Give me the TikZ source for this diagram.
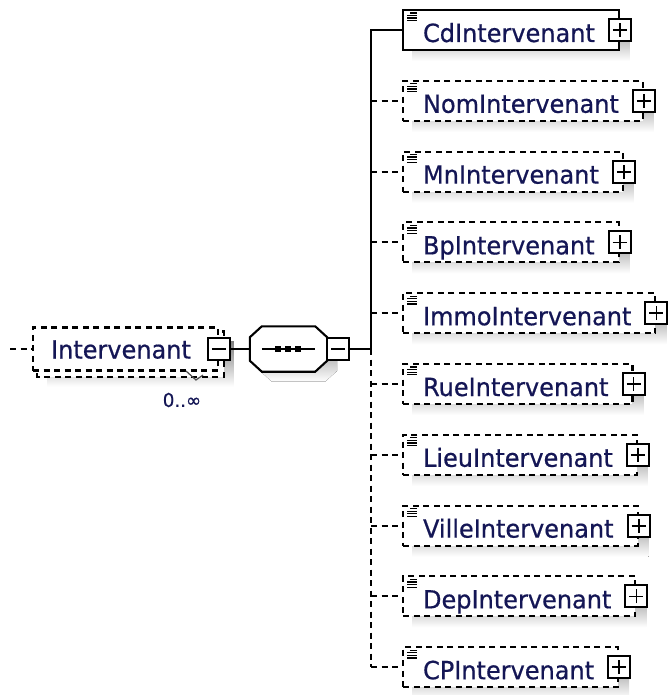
\documentclass[tikz,border=0pt]{standalone}
\usepackage{fontspec}
\newfontfamily\xsdfont[FakeStretch=0.96, FakeBold=0.6]{DejaVu Sans}
\usetikzlibrary{calc}
\definecolor{ink}{RGB}{20,22,85}
\definecolor{shade}{RGB}{190,190,190}
\pgfdeclarelayer{shadow}
\pgfdeclarelayer{back}
\pgfsetlayers{shadow,back,main}

\begin{document}
\begin{tikzpicture}[x=1pt,y=-1pt,
  edge/.style={line width=2.1pt, draw=black},
  opt/.style={dash pattern=on 6pt off 4.5pt},
  elembase/.style={draw=black, line width=2.1pt, fill=white, rectangle,
    inner xsep=0pt, inner ysep=0pt,
    font={\xsdfont\fontsize{25pt}{28pt}\selectfont}, text=ink, anchor=west},
  elem/.style={elembase, minimum height=40pt, text height=24pt, text depth=0pt,
    execute at begin node={\hspace*{20pt}},
    execute at end node={\hspace*{24pt}}},
  xbox/.style={draw=black, line width=2pt, fill=white, rectangle,
    minimum width=22pt, minimum height=22pt, inner sep=0pt},
  plus/.style={xbox, path picture={
    \draw[line width=1.8pt]
      ([xshift=-7pt]path picture bounding box.center) -- ([xshift=7pt]path picture bounding box.center)
      ([yshift=-7pt]path picture bounding box.center) -- ([yshift=7pt]path picture bounding box.center);}},
  minus/.style={xbox, path picture={
    \draw[line width=1.8pt]
      ([xshift=-7pt]path picture bounding box.center) -- ([xshift=7pt]path picture bounding box.center);}},
  occur/.style={font={\xsdfont\fontsize{19pt}{22pt}\selectfont}, text=ink, inner sep=0pt}
]
\useasboundingbox (0,0) rectangle (669,695);

% ---- parent element (0..unbounded) ----
\node[elembase, opt, minimum height=43pt, text height=19pt, text depth=0pt,
      execute at begin node={\hspace*{18pt}},
      execute at end node={\hspace*{27pt}}] (iv) at (32,349) {Intervenant};
\node[minus] (ivx) at (iv.east) {};
\node[occur] (occ) at (182,400) {0..∞};
\draw[line width=1.2pt, black!70] (186,371) -- (196,380) -- (203,375);

\begin{pgfonlayer}{back}
  \draw[edge, opt, fill=white] ($(iv.north west)+(5,5)$) rectangle ($(iv.south east)+(5,5)$);
\end{pgfonlayer}
\begin{pgfonlayer}{shadow}
  \fill[shade] ($(iv.north west)+(15,15)$) rectangle ($(iv.south east)+(15,15)$);
\end{pgfonlayer}

\coordinate (parent) at (10,349);
\draw[edge, opt] (parent) -- (iv.west);

% ---- sequence compositor ----
\node[minimum width=77pt, minimum height=45pt, inner sep=0pt] (seq) at (288.5,349) {};
\draw[edge, fill=white]
  ($(seq.north west)+(12,0)$) -- ($(seq.north east)+(-12,0)$) --
  ($(seq.north east)+(0,11)$) -- ($(seq.south east)+(0,-11)$) --
  ($(seq.south east)+(-12,0)$) -- ($(seq.south west)+(12,0)$) --
  ($(seq.south west)+(0,-11)$) -- ($(seq.north west)+(0,11)$) -- cycle;
\begin{pgfonlayer}{shadow}
  \fill[shade]
    ($(seq.north west)+(22,10)$) -- ($(seq.north east)+(-2,10)$) --
    ($(seq.north east)+(10,21)$) -- ($(seq.south east)+(10,-1)$) --
    ($(seq.south east)+(-2,10)$) -- ($(seq.south west)+(22,10)$) --
    ($(seq.south west)+(10,-1)$) -- ($(seq.north west)+(10,21)$) -- cycle;
\end{pgfonlayer}
\draw[line width=1.8pt] ($(seq.west)+(12,0)$) -- ($(seq.east)+(-12,0)$);
\foreach \dx in {-10.5,-0.5,9.5}
  \fill ($(seq.center)+(\dx-3,-3)$) rectangle ++(6,6);
\node[minus, anchor=west] (seqx) at ($(seq.east)+(-1,0)$) {};

\draw[edge] (ivx.east) -- (seq.west);

% ---- child elements ----
\node[elem]      (cd)    at (402, 30.0) {CdIntervenant};
\node[elem, opt] (nom)   at (402,100.8) {NomIntervenant};
\node[elem, opt] (mn)    at (402,171.6) {MnIntervenant};
\node[elem, opt] (bp)    at (402,242.4) {BpIntervenant};
\node[elem, opt] (immo)  at (402,313.2) {ImmoIntervenant};
\node[elem, opt] (rue)   at (402,384.0) {RueIntervenant};
\node[elem, opt] (lieu)  at (402,454.8) {LieuIntervenant};
\node[elem, opt] (ville) at (402,525.6) {VilleIntervenant};
\node[elem, opt] (dep)   at (402,596.4) {DepIntervenant};
\node[elem, opt] (cp)    at (402,667.2) {CPIntervenant};

\foreach \n in {cd,nom,mn,bp,immo,rue,lieu,ville,dep,cp}{
  \node[plus] (\n-x) at (\n.east) {};
  % documentation marker in the top left corner
  \draw[line width=1.3pt] ($(\n.north west)+(8,4)$) -- ++(7,0);
  \foreach \k in {1,2,3}
    \draw[line width=1.3pt] ($(\n.north west)+(5,4+2.6*\k)$) -- ++(10,0);
  \begin{pgfonlayer}{shadow}
    \fill[shade] ($(\n.north west)+(10,10)$) rectangle ($(\n.south east)+(10,10)$);
  \end{pgfonlayer}
}

% ---- connectors ----
\coordinate (bus) at (371,349);
\draw[edge] (seqx.east) -- (bus);
\draw[edge] (bus) |- (cd.west);
\draw[edge, opt] (bus) -- (bus |- cp.west);
\foreach \n in {nom,mn,bp,immo,rue,lieu,ville,dep,cp}
  \draw[edge, opt] (bus |- \n.west) -- (\n.west);
\end{tikzpicture}
\end{document}
